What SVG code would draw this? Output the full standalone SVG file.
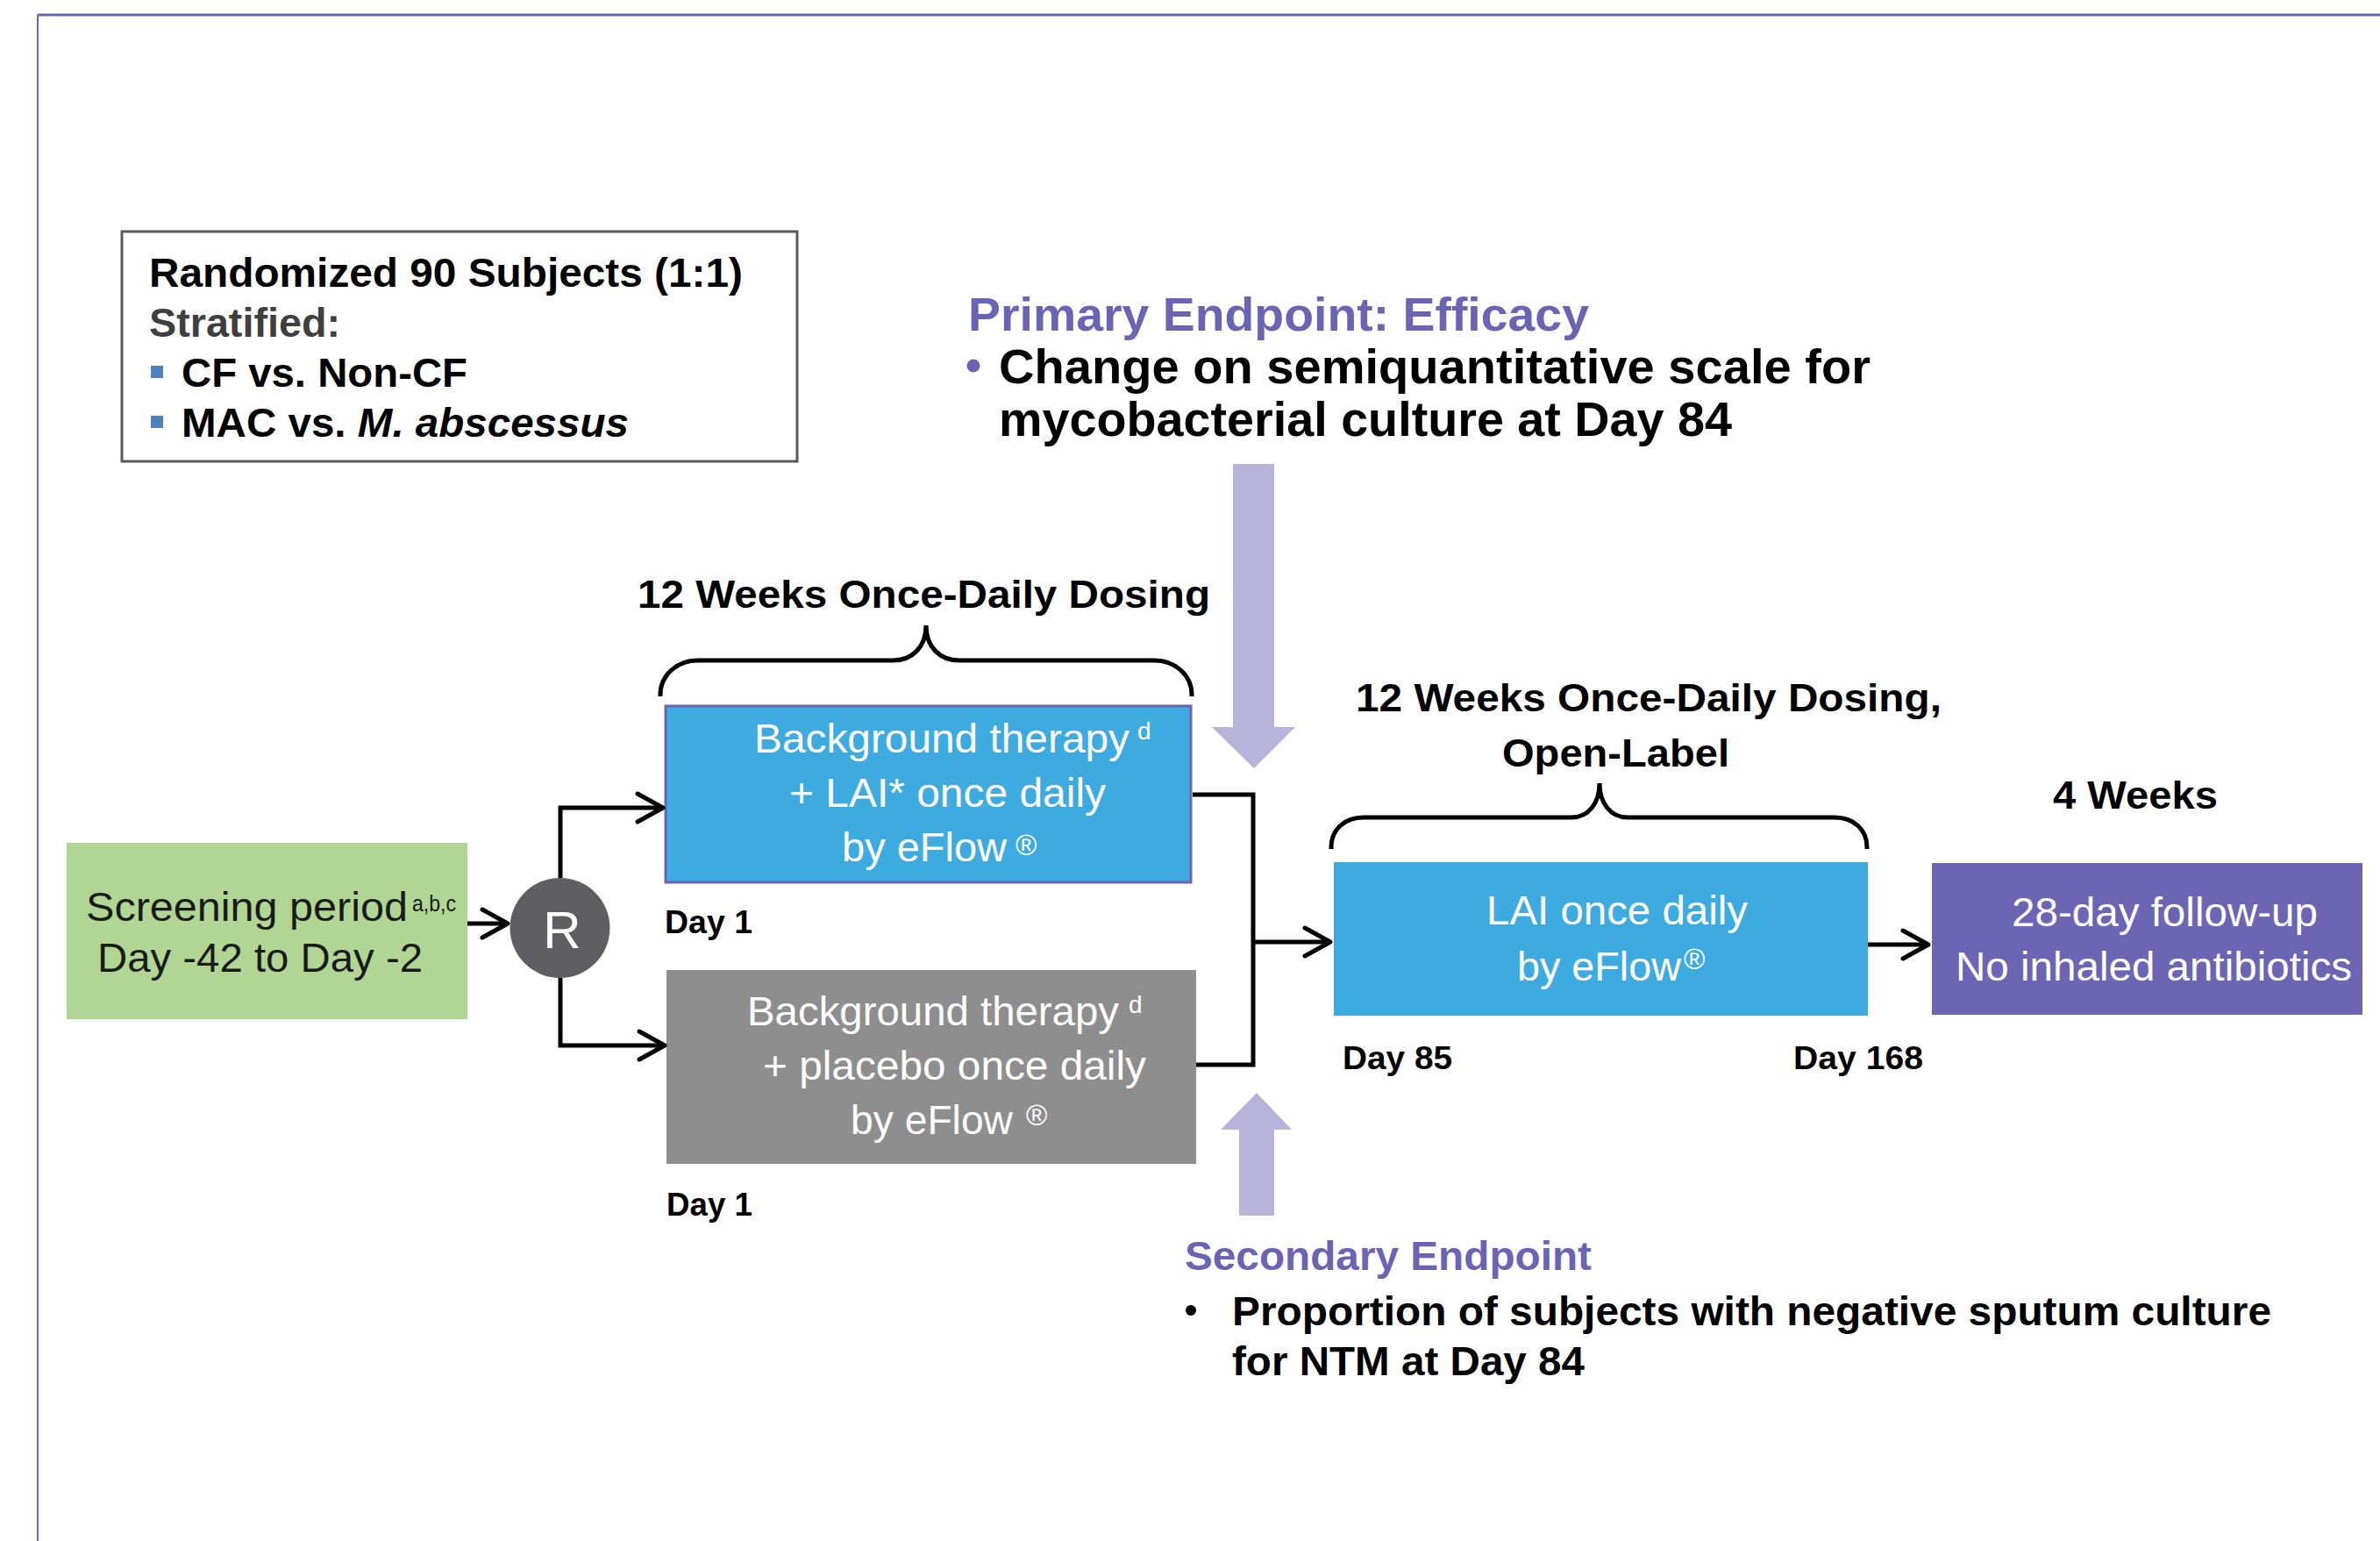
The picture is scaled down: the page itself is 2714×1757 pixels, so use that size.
<svg xmlns="http://www.w3.org/2000/svg" width="2714" height="1757" viewBox="0 0 2714 1757">
<defs>
<style>
text{font-family:"Liberation Sans",Arial,Helvetica,sans-serif;}
.b{font-weight:bold;}
.k{fill:#000;}
.w{fill:#fff;}
.p{fill:#6b64b4;}
.lbl{font-size:46px;}
.day{font-size:37px;font-weight:bold;fill:#000;}
.box{font-size:46px;fill:#fff;}
.sup{font-size:28px;fill:#fff;}
.reg{font-size:33px;fill:#fff;}
.conn{fill:none;stroke:#000;stroke-width:5;stroke-linejoin:miter;}
.brace{fill:none;stroke:#000;stroke-width:5;stroke-linecap:butt;}
.lav{fill:#b7b3db;}
</style>
<marker id="chev" markerUnits="userSpaceOnUse" markerWidth="40" markerHeight="40" refX="31" refY="18" orient="auto" overflow="visible">
<path d="M2,2 L31,18 L2,34" fill="none" stroke="#000" stroke-width="5" stroke-linecap="round" stroke-linejoin="round"/>
</marker>
</defs>
<rect x="0" y="0" width="2714" height="1757" fill="#fff"/>
<g id="frame">
<line x1="43" y1="17" x2="2714" y2="17" stroke="#6b66b0" stroke-width="3"/>
<line x1="43" y1="17" x2="43" y2="1757" stroke="#6b66b0" stroke-width="2"/>
</g>
<g id="randomization-info">
<rect x="139" y="264" width="770" height="262" fill="#fff" stroke="#595959" stroke-width="3"/>
<text x="170" y="327" class="b k lbl" textLength="677" lengthAdjust="spacingAndGlyphs">Randomized 90 Subjects (1:1)</text>
<text x="170" y="384" class="b lbl" fill="#3f3f3f" textLength="218" lengthAdjust="spacingAndGlyphs">Stratified:</text>
<rect x="172" y="417" width="14" height="14" fill="#4f81bd"/>
<text x="207" y="441" class="b k lbl" textLength="326" lengthAdjust="spacingAndGlyphs">CF vs. Non-CF</text>
<rect x="172" y="474" width="14" height="14" fill="#4f81bd"/>
<text x="207" y="498" class="b k lbl" textLength="510" lengthAdjust="spacingAndGlyphs">MAC vs. <tspan font-style="italic">M. abscessus</tspan></text>
</g>
<g id="primary-endpoint">
<text x="1104" y="377" class="b p" font-size="54" textLength="708" lengthAdjust="spacingAndGlyphs">Primary Endpoint: Efficacy</text>
<circle cx="1110" cy="417" r="7.5" fill="#6b64b4"/>
<text x="1139" y="437" class="b k" font-size="56" textLength="994" lengthAdjust="spacingAndGlyphs">Change on semiquantitative scale for</text>
<text x="1139" y="497" class="b k" font-size="56" textLength="836" lengthAdjust="spacingAndGlyphs">mycobacterial culture at Day 84</text>
</g>
<g id="primary-arrow">
<polygon class="lav" points="1406,529 1453,529 1453,829 1477,829 1430,876 1382,829 1406,829"/>
</g>
<g id="secondary-arrow">
<polygon class="lav" points="1413,1386 1453,1386 1453,1288 1473,1288 1433,1246 1392,1288 1413,1288"/>
</g>
<g id="secondary-endpoint">
<text x="1351" y="1448" class="b p" font-size="46" textLength="464" lengthAdjust="spacingAndGlyphs">Secondary Endpoint</text>
<circle cx="1358" cy="1494" r="6" fill="#000"/>
<text x="1405" y="1511" class="b k lbl" textLength="1185" lengthAdjust="spacingAndGlyphs">Proportion of subjects with negative sputum culture</text>
<text x="1405" y="1568" class="b k lbl" textLength="402" lengthAdjust="spacingAndGlyphs">for NTM at Day 84</text>
</g>
<g id="screening">
<rect x="76" y="961" width="457" height="201" fill="#b1d693"/>
<text x="98" y="1050" class="lbl" fill="#1a1a1a" textLength="367" lengthAdjust="spacingAndGlyphs">Screening period</text>
<text x="470" y="1039" font-size="25" fill="#1a1a1a" textLength="50" lengthAdjust="spacingAndGlyphs">a,b,c</text>
<text x="111" y="1108" class="lbl" fill="#1a1a1a" textLength="371" lengthAdjust="spacingAndGlyphs">Day -42 to Day -2</text>
</g>
<g id="randomize">
<circle cx="638.5" cy="1058" r="57" fill="#5f5f63"/>
<text x="641" y="1081" font-size="60" fill="#fff" text-anchor="middle">R</text>
</g>
<g id="lai-arm">
<text x="727" y="693" class="b k" font-size="45" textLength="653" lengthAdjust="spacingAndGlyphs">12 Weeks Once-Daily Dosing</text>
<path class="brace" d="M753,794 L753,792 C753,770 772,753 795,753 L1018,753 C1040,753 1056,738 1056,713 C1056,738 1072,753 1094,753 L1317,753 C1340,753 1359,770 1359,792 L1359,794"/>
<rect x="759" y="805" width="599" height="201" fill="#3eabe0" stroke="#6b64b4" stroke-width="3"/>
<text x="860" y="858" class="box" textLength="428" lengthAdjust="spacingAndGlyphs">Background therapy</text>
<text x="1297" y="843" class="sup">d</text>
<text x="900" y="920" class="box" textLength="361" lengthAdjust="spacingAndGlyphs">+ LAI* once daily</text>
<text x="960" y="982" class="box" textLength="188" lengthAdjust="spacingAndGlyphs">by eFlow</text>
<text x="1158" y="975" class="reg">®</text>
<text x="758" y="1064" class="day" textLength="100" lengthAdjust="spacingAndGlyphs">Day 1</text>
</g>
<g id="placebo-arm">
<rect x="760" y="1106" width="604" height="221" fill="#8e8e8e"/>
<text x="852" y="1169" class="box" textLength="424" lengthAdjust="spacingAndGlyphs">Background therapy</text>
<text x="1287" y="1155" class="sup">d</text>
<text x="870" y="1231" class="box" textLength="437" lengthAdjust="spacingAndGlyphs">+ placebo once daily</text>
<text x="970" y="1293" class="box" textLength="185" lengthAdjust="spacingAndGlyphs">by eFlow</text>
<text x="1170" y="1283" class="reg" font-size="31">®</text>
<text x="760" y="1386" class="day" textLength="98" lengthAdjust="spacingAndGlyphs">Day 1</text>
</g>
<g id="open-label">
<text x="1546" y="811" class="b k" font-size="45" textLength="668" lengthAdjust="spacingAndGlyphs">12 Weeks Once-Daily Dosing,</text>
<text x="1713" y="874" class="b k" font-size="45" textLength="259" lengthAdjust="spacingAndGlyphs">Open-Label</text>
<path class="brace" d="M1518,968 L1518,966 C1518,946 1533,932 1555,932 L1792,932 C1812,932 1824,915 1824,893 C1824,915 1836,932 1856,932 L2092,932 C2114,932 2129,946 2129,966 L2129,968"/>
<rect x="1521" y="983" width="609" height="175" fill="#3eabe0"/>
<text x="1695" y="1054" class="box" textLength="298" lengthAdjust="spacingAndGlyphs">LAI once daily</text>
<text x="1730" y="1118" class="box" textLength="187" lengthAdjust="spacingAndGlyphs">by eFlow</text>
<text x="1920" y="1105" class="reg">®</text>
<text x="1531" y="1219" class="day" textLength="125" lengthAdjust="spacingAndGlyphs">Day 85</text>
<text x="2045" y="1219" class="day" textLength="148" lengthAdjust="spacingAndGlyphs">Day 168</text>
</g>
<g id="follow-up">
<text x="2341" y="922" class="b k" font-size="45" textLength="188" lengthAdjust="spacingAndGlyphs">4 Weeks</text>
<rect x="2203" y="984" width="491" height="173" fill="#6b65b4"/>
<text x="2294" y="1056" class="box" textLength="349" lengthAdjust="spacingAndGlyphs">28-day follow-up</text>
<text x="2230" y="1118" class="box" textLength="452" lengthAdjust="spacingAndGlyphs">No inhaled antibiotics</text>
</g>
<g id="connectors">
<path class="conn" d="M533,1053 L579,1053" marker-end="url(#chev)"/>
<path class="conn" d="M639,1001 L639,921 L756,921" marker-end="url(#chev)"/>
<path class="conn" d="M639,1115 L639,1192 L758,1192" marker-end="url(#chev)"/>
<path class="conn" d="M1360,906 L1429,906 L1429,1214 L1364,1214"/>
<path class="conn" d="M1429,1074 L1517,1074" marker-end="url(#chev)"/>
<path class="conn" d="M2130,1077 L2199,1077" marker-end="url(#chev)"/>
</g>
</svg>
